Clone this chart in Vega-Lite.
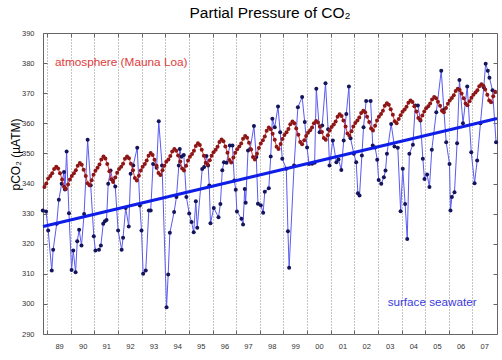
{
  "$schema": "https://vega.github.io/schema/vega-lite/v6.json",
  "width": 454,
  "height": 301,
  "autosize": {"type": "none"},
  "padding": {"left": 43, "top": 33, "right": 5, "bottom": 26},
  "background": "white",
  "title": {"text": "Partial Pressure of CO₂", "fontSize": 15.5, "font": "Liberation Sans", "fontWeight": "normal", "color": "#000000", "anchor": "middle", "offset": 14, "baseline": "alphabetic", "dy": 18},
  "config": {"view": {"stroke": "#666666", "strokeWidth": 1}, "font": "Liberation Sans"},
  "datasets": {
    "trend": [{"t": 1988.82, "v": 325.7}, {"t": 2008.04, "v": 361.6}],
    "labels": [
      {"t": 1989.33, "v": 380.2, "label": "atmosphere (Mauna Loa)"},
      {"t": 2003.41, "v": 300.5, "label": "surface seawater"}
    ],
    "sea": [
      {"t":1988.81,"v":331.0},{"t":1988.95,"v":330.7},{"t":1989.04,"v":324.4},{"t":1989.19,"v":311.1},{"t":1989.25,"v":318.0},{"t":1989.40,"v":326.6},{"t":1989.49,"v":334.6},{"t":1989.61,"v":339.9},{"t":1989.71,"v":343.8},{"t":1989.75,"v":338.0},{"t":1989.82,"v":350.6},{"t":1989.92,"v":330.1},
      {"t":1990.03,"v":311.3},{"t":1990.10,"v":317.7},{"t":1990.20,"v":310.5},{"t":1990.27,"v":320.8},{"t":1990.35,"v":324.6},{"t":1990.45,"v":319.4},{"t":1990.56,"v":329.9},{"t":1990.71,"v":354.5},{"t":1990.84,"v":339.4},{"t":1990.97,"v":322.5},
      {"t":1991.04,"v":317.7},{"t":1991.19,"v":318.0},{"t":1991.27,"v":319.4},{"t":1991.37,"v":326.6},{"t":1991.44,"v":327.5},{"t":1991.51,"v":327.9},{"t":1991.58,"v":339.9},{"t":1991.68,"v":344.3},{"t":1991.78,"v":341.0},{"t":1991.88,"v":339.0},
      {"t":1992.00,"v":324.4},{"t":1992.15,"v":318.0},{"t":1992.21,"v":322.0},{"t":1992.32,"v":331.9},{"t":1992.45,"v":325.7},{"t":1992.53,"v":343.2},{"t":1992.64,"v":346.0},{"t":1992.81,"v":351.9},{"t":1992.92,"v":332.7},{"t":1992.99,"v":324.4},
      {"t":1993.06,"v":310.0},{"t":1993.17,"v":311.1},{"t":1993.30,"v":331.0},{"t":1993.38,"v":331.0},{"t":1993.48,"v":346.5},{"t":1993.63,"v":345.2},{"t":1993.72,"v":360.7},{"t":1993.86,"v":346.0},
      {"t":1994.05,"v":298.9},{"t":1994.12,"v":309.8},{"t":1994.19,"v":323.6},{"t":1994.37,"v":330.5},{"t":1994.47,"v":335.5},{"t":1994.57,"v":346.0},{"t":1994.61,"v":351.5},{"t":1994.68,"v":348.9},{"t":1994.78,"v":349.5},{"t":1994.89,"v":335.5},
      {"t":1995.01,"v":330.0},{"t":1995.11,"v":327.2},{"t":1995.20,"v":323.8},{"t":1995.29,"v":334.1},{"t":1995.35,"v":325.3},{"t":1995.56,"v":344.8},{"t":1995.64,"v":345.5},{"t":1995.74,"v":349.1},{"t":1995.81,"v":346.0},{"t":1995.86,"v":339.3},{"t":1995.91,"v":326.8},
      {"t":1996.05,"v":331.9},{"t":1996.25,"v":328.8},{"t":1996.33,"v":333.2},{"t":1996.41,"v":344.4},{"t":1996.48,"v":347.1},{"t":1996.59,"v":346.9},{"t":1996.73,"v":352.6},{"t":1996.84,"v":352.6},{"t":1996.92,"v":341.0},{"t":1996.98,"v":337.9},
      {"t":1997.03,"v":330.7},{"t":1997.22,"v":328.3},{"t":1997.29,"v":326.4},{"t":1997.36,"v":338.2},{"t":1997.40,"v":333.6},{"t":1997.50,"v":351.0},{"t":1997.59,"v":351.5},{"t":1997.75,"v":359.1},{"t":1997.85,"v":348.8},{"t":1997.92,"v":333.3},
      {"t":1998.04,"v":332.8},{"t":1998.14,"v":330.3},{"t":1998.21,"v":337.3},{"t":1998.38,"v":338.4},{"t":1998.46,"v":349.0},{"t":1998.53,"v":361.5},{"t":1998.63,"v":358.7},{"t":1998.77,"v":365.6},{"t":1998.86,"v":357.0},{"t":1998.95,"v":348.2},
      {"t":1999.12,"v":344.9},{"t":1999.19,"v":324.1},{"t":1999.24,"v":312.0},{"t":1999.45,"v":346.0},{"t":1999.61,"v":365.3},{"t":1999.79,"v":368.7},{"t":1999.90,"v":360.4},
      {"t":2000.00,"v":352.0},{"t":2000.08,"v":346.5},{"t":2000.21,"v":346.6},{"t":2000.32,"v":346.9},{"t":2000.39,"v":371.5},{"t":2000.53,"v":357.0},{"t":2000.64,"v":359.3},{"t":2000.78,"v":373.3},{"t":2000.89,"v":358.0},{"t":2000.95,"v":346.0},
      {"t":2001.09,"v":354.3},{"t":2001.24,"v":347.1},{"t":2001.33,"v":348.0},{"t":2001.45,"v":344.5},{"t":2001.55,"v":354.3},{"t":2001.66,"v":363.1},{"t":2001.77,"v":372.2},{"t":2001.84,"v":355.0},{"t":2001.98,"v":349.9},
      {"t":2002.08,"v":347.1},{"t":2002.15,"v":336.8},{"t":2002.22,"v":336.0},{"t":2002.32,"v":349.3},{"t":2002.39,"v":358.7},{"t":2002.50,"v":367.4},{"t":2002.69,"v":367.4},{"t":2002.78,"v":352.6},{"t":2002.88,"v":352.0},{"t":2002.97,"v":347.9},
      {"t":2003.03,"v":341.2},{"t":2003.14,"v":339.9},{"t":2003.25,"v":342.1},{"t":2003.32,"v":344.3},{"t":2003.38,"v":349.9},{"t":2003.56,"v":359.8},{"t":2003.70,"v":352.3},{"t":2003.84,"v":351.9},{"t":2003.96,"v":330.8},
      {"t":2004.05,"v":344.9},{"t":2004.15,"v":333.2},{"t":2004.24,"v":321.6},{"t":2004.33,"v":349.9},{"t":2004.48,"v":352.9},{"t":2004.58,"v":365.9},{"t":2004.69,"v":365.9},{"t":2004.80,"v":360.9},{"t":2004.90,"v":348.2},{"t":2004.97,"v":341.5},
      {"t":2005.08,"v":343.0},{"t":2005.18,"v":338.8},{"t":2005.28,"v":351.2},{"t":2005.47,"v":363.7},{"t":2005.68,"v":377.5},{"t":2005.79,"v":364.5},{"t":2005.89,"v":353.7},
      {"t":2006.03,"v":346.5},{"t":2006.07,"v":331.0},{"t":2006.13,"v":335.5},{"t":2006.24,"v":337.1},{"t":2006.35,"v":353.4},{"t":2006.45,"v":374.4},{"t":2006.60,"v":360.0},{"t":2006.78,"v":372.2},{"t":2006.95,"v":350.4},
      {"t":2007.09,"v":340.1},{"t":2007.20,"v":347.6},{"t":2007.34,"v":360.0},{"t":2007.48,"v":372.0},{"t":2007.56,"v":379.8},{"t":2007.65,"v":377.5},{"t":2007.72,"v":375.1},{"t":2007.85,"v":371.0},{"t":2008.00,"v":353.7}
    ],
    "atm": [
      {"t":1988.88,"v":338.8},{"t":1988.96,"v":340.0},
      {"t":1989.04,"v":341.7},{"t":1989.13,"v":342.5},{"t":1989.21,"v":343.4},{"t":1989.29,"v":344.8},{"t":1989.38,"v":345.6},{"t":1989.46,"v":345.0},{"t":1989.54,"v":343.4},{"t":1989.63,"v":341.3},{"t":1989.71,"v":338.9},{"t":1989.79,"v":338.2},{"t":1989.88,"v":339.7},{"t":1989.96,"v":341.3},
      {"t":1990.04,"v":342.5},{"t":1990.13,"v":343.4},{"t":1990.21,"v":344.4},{"t":1990.29,"v":345.9},{"t":1990.38,"v":346.8},{"t":1990.46,"v":346.2},{"t":1990.54,"v":344.6},{"t":1990.63,"v":342.5},{"t":1990.71,"v":340.1},{"t":1990.79,"v":339.4},{"t":1990.88,"v":341.1},{"t":1990.96,"v":342.9},
      {"t":1991.04,"v":344.2},{"t":1991.13,"v":345.2},{"t":1991.21,"v":346.3},{"t":1991.29,"v":348.0},{"t":1991.38,"v":349.0},{"t":1991.46,"v":348.3},{"t":1991.54,"v":346.5},{"t":1991.63,"v":344.1},{"t":1991.71,"v":341.4},{"t":1991.79,"v":340.5},{"t":1991.88,"v":342.0},{"t":1991.96,"v":343.6},
      {"t":1992.04,"v":344.8},{"t":1992.13,"v":345.6},{"t":1992.21,"v":346.6},{"t":1992.29,"v":348.2},{"t":1992.38,"v":349.0},{"t":1992.46,"v":348.4},{"t":1992.54,"v":346.6},{"t":1992.63,"v":344.4},{"t":1992.71,"v":341.8},{"t":1992.79,"v":341.0},{"t":1992.88,"v":342.6},{"t":1992.96,"v":344.3},
      {"t":1993.04,"v":345.6},{"t":1993.13,"v":346.5},{"t":1993.21,"v":347.6},{"t":1993.29,"v":349.2},{"t":1993.38,"v":350.1},{"t":1993.46,"v":349.5},{"t":1993.54,"v":347.9},{"t":1993.63,"v":345.9},{"t":1993.71,"v":343.5},{"t":1993.79,"v":342.8},{"t":1993.88,"v":344.4},{"t":1993.96,"v":345.9},
      {"t":1994.04,"v":347.2},{"t":1994.13,"v":348.0},{"t":1994.21,"v":349.1},{"t":1994.29,"v":350.6},{"t":1994.38,"v":351.5},{"t":1994.46,"v":350.9},{"t":1994.54,"v":349.3},{"t":1994.63,"v":347.3},{"t":1994.71,"v":345.0},{"t":1994.79,"v":344.3},{"t":1994.88,"v":345.9},{"t":1994.96,"v":347.6},
      {"t":1995.04,"v":348.9},{"t":1995.13,"v":349.8},{"t":1995.21,"v":350.9},{"t":1995.29,"v":352.5},{"t":1995.38,"v":353.4},{"t":1995.46,"v":352.8},{"t":1995.54,"v":351.2},{"t":1995.63,"v":349.2},{"t":1995.71,"v":346.9},{"t":1995.79,"v":346.2},{"t":1995.88,"v":347.7},{"t":1995.96,"v":349.2},
      {"t":1996.04,"v":350.4},{"t":1996.13,"v":351.2},{"t":1996.21,"v":352.2},{"t":1996.29,"v":353.8},{"t":1996.38,"v":354.6},{"t":1996.46,"v":354.0},{"t":1996.54,"v":352.3},{"t":1996.63,"v":350.2},{"t":1996.71,"v":347.8},{"t":1996.79,"v":347.0},{"t":1996.88,"v":348.6},{"t":1996.96,"v":350.2},
      {"t":1997.04,"v":351.4},{"t":1997.13,"v":352.3},{"t":1997.21,"v":353.3},{"t":1997.29,"v":354.9},{"t":1997.38,"v":355.8},{"t":1997.46,"v":355.2},{"t":1997.54,"v":353.5},{"t":1997.63,"v":351.3},{"t":1997.71,"v":348.8},{"t":1997.79,"v":348.0},{"t":1997.88,"v":349.9},{"t":1997.96,"v":351.8},
      {"t":1998.04,"v":353.3},{"t":1998.13,"v":354.4},{"t":1998.21,"v":355.6},{"t":1998.29,"v":357.5},{"t":1998.38,"v":358.6},{"t":1998.46,"v":358.0},{"t":1998.54,"v":356.5},{"t":1998.63,"v":354.5},{"t":1998.71,"v":352.2},{"t":1998.79,"v":351.5},{"t":1998.88,"v":353.1},{"t":1998.96,"v":354.8},
      {"t":1999.04,"v":356.1},{"t":1999.13,"v":357.0},{"t":1999.21,"v":358.1},{"t":1999.29,"v":359.7},{"t":1999.38,"v":360.6},{"t":1999.46,"v":360.0},{"t":1999.54,"v":358.3},{"t":1999.63,"v":356.2},{"t":1999.71,"v":353.8},{"t":1999.79,"v":353.0},{"t":1999.88,"v":354.4},{"t":1999.96,"v":355.8},
      {"t":2000.04,"v":356.9},{"t":2000.13,"v":357.7},{"t":2000.21,"v":358.6},{"t":2000.29,"v":360.0},{"t":2000.38,"v":360.8},{"t":2000.46,"v":360.3},{"t":2000.54,"v":358.9},{"t":2000.63,"v":357.1},{"t":2000.71,"v":355.1},{"t":2000.79,"v":354.5},{"t":2000.88,"v":356.0},{"t":2000.96,"v":357.6},
      {"t":2001.04,"v":358.8},{"t":2001.13,"v":359.6},{"t":2001.21,"v":360.6},{"t":2001.29,"v":362.2},{"t":2001.38,"v":363.0},{"t":2001.46,"v":362.4},{"t":2001.54,"v":360.9},{"t":2001.63,"v":358.9},{"t":2001.71,"v":356.6},{"t":2001.79,"v":355.9},{"t":2001.88,"v":357.4},{"t":2001.96,"v":358.9},
      {"t":2002.04,"v":360.1},{"t":2002.13,"v":360.9},{"t":2002.21,"v":361.9},{"t":2002.29,"v":363.4},{"t":2002.38,"v":364.2},{"t":2002.46,"v":363.7},{"t":2002.54,"v":362.2},{"t":2002.63,"v":360.4},{"t":2002.71,"v":358.3},{"t":2002.79,"v":357.6},{"t":2002.88,"v":359.2},{"t":2002.96,"v":360.9},
      {"t":2003.04,"v":362.2},{"t":2003.13,"v":363.1},{"t":2003.21,"v":364.2},{"t":2003.29,"v":365.8},{"t":2003.38,"v":366.7},{"t":2003.46,"v":366.2},{"t":2003.54,"v":364.7},{"t":2003.63,"v":362.8},{"t":2003.71,"v":360.7},{"t":2003.79,"v":360.0},{"t":2003.88,"v":361.4},{"t":2003.96,"v":362.7},
      {"t":2004.04,"v":363.8},{"t":2004.13,"v":364.6},{"t":2004.21,"v":365.5},{"t":2004.29,"v":366.8},{"t":2004.38,"v":367.6},{"t":2004.46,"v":367.1},{"t":2004.54,"v":365.7},{"t":2004.63,"v":363.9},{"t":2004.71,"v":361.8},{"t":2004.79,"v":361.2},{"t":2004.88,"v":362.6},{"t":2004.96,"v":363.9},
      {"t":2005.04,"v":365.0},{"t":2005.13,"v":365.7},{"t":2005.21,"v":366.6},{"t":2005.29,"v":367.9},{"t":2005.38,"v":368.7},{"t":2005.46,"v":368.3},{"t":2005.54,"v":367.2},{"t":2005.63,"v":365.8},{"t":2005.71,"v":364.2},{"t":2005.79,"v":363.7},{"t":2005.88,"v":365.1},{"t":2005.96,"v":366.5},
      {"t":2006.04,"v":367.6},{"t":2006.13,"v":368.4},{"t":2006.21,"v":369.3},{"t":2006.29,"v":370.7},{"t":2006.38,"v":371.5},{"t":2006.46,"v":371.1},{"t":2006.54,"v":369.9},{"t":2006.63,"v":368.3},{"t":2006.71,"v":366.6},{"t":2006.79,"v":366.0},{"t":2006.88,"v":367.3},{"t":2006.96,"v":368.5},
      {"t":2007.04,"v":369.5},{"t":2007.13,"v":370.2},{"t":2007.21,"v":371.0},{"t":2007.29,"v":372.3},{"t":2007.38,"v":373.0},{"t":2007.46,"v":372.5},{"t":2007.54,"v":371.2},{"t":2007.63,"v":369.5},{"t":2007.71,"v":367.6},{"t":2007.79,"v":367.0},{"t":2007.88,"v":369.0},{"t":2007.96,"v":370.5}
    ]
  },
  "layer": [
    {
      "data": {"name": "sea"},
      "mark": {"type": "line", "color": "#5a5af0", "strokeWidth": 1},
      "encoding": {
        "x": {"field": "t", "type": "quantitative", "scale": {"domain": [1988.82, 2008.04], "nice": false, "zero": false},
          "axis": {"orient": "bottom", "values": [1989,1990,1991,1992,1993,1994,1995,1996,1997,1998,1999,2000,2001,2002,2003,2004,2005,2006,2007],
            "grid": true, "gridDash": [1, 2], "gridColor": "#8a8a8a", "gridWidth": 1, "gridOpacity": 1,
            "domain": false, "ticks": true, "tickSize": -4, "tickColor": "#666666",
            "labelExpr": "substring('' + datum.value, 2, 4)", "labelOffset": 11.8, "labelFontSize": 7.5, "labelColor": "#333333", "labelPadding": 12.5, "labelFont": "Liberation Sans", "title": null}},
        "y": {"field": "v", "type": "quantitative", "scale": {"domain": [290, 390], "nice": false, "zero": false},
          "axis": {"orient": "left", "values": [290,300,310,320,330,340,350,360,370,380,390], "grid": false, "domain": false,
            "ticks": true, "tickSize": -4, "tickColor": "#666666", "labelFontSize": 7.5, "labelColor": "#333333", "labelPadding": 13, "labelFont": "Liberation Sans",
            "title": "pCO₂ (µATM)", "titleFontSize": 12, "titleFontWeight": "normal", "titleColor": "#000000", "titleFont": "Liberation Sans",
            "titleX": -28, "titleY": 121, "titleAlign": "center", "titleAngle": 270, "titleBaseline": "middle"}}
      }
    },
    {
      "data": {"name": "sea"},
      "mark": {"type": "point", "filled": true, "color": "#14145c", "size": 16, "opacity": 1},
      "encoding": {
        "x": {"field": "t", "type": "quantitative", "scale": {"domain": [1988.82, 2008.04], "nice": false, "zero": false}, "axis": null},
        "y": {"field": "v", "type": "quantitative", "scale": {"domain": [290, 390], "nice": false, "zero": false}, "axis": null}
      }
    },
    {
      "data": {"name": "trend"},
      "mark": {"type": "line", "color": "#0f1ee6", "strokeWidth": 3},
      "encoding": {
        "x": {"field": "t", "type": "quantitative", "scale": {"domain": [1988.82, 2008.04], "nice": false, "zero": false}, "axis": null},
        "y": {"field": "v", "type": "quantitative", "scale": {"domain": [290, 390], "nice": false, "zero": false}, "axis": null}
      }
    },
    {
      "data": {"name": "atm"},
      "mark": {"type": "line", "color": "#e82a2a", "strokeWidth": 1},
      "encoding": {
        "x": {"field": "t", "type": "quantitative", "scale": {"domain": [1988.82, 2008.04], "nice": false, "zero": false}, "axis": null},
        "y": {"field": "v", "type": "quantitative", "scale": {"domain": [290, 390], "nice": false, "zero": false}, "axis": null}
      }
    },
    {
      "data": {"name": "atm"},
      "mark": {"type": "point", "filled": true, "color": "#8e1616", "size": 16, "opacity": 1},
      "encoding": {
        "x": {"field": "t", "type": "quantitative", "scale": {"domain": [1988.82, 2008.04], "nice": false, "zero": false}, "axis": null},
        "y": {"field": "v", "type": "quantitative", "scale": {"domain": [290, 390], "nice": false, "zero": false}, "axis": null}
      }
    },
    {
      "data": {"name": "labels"},
      "transform": [{"filter": "datum.label == 'atmosphere (Mauna Loa)'"}],
      "mark": {"type": "text", "align": "left", "baseline": "middle", "fontSize": 11.8, "font": "Liberation Sans", "color": "#e03a3a"},
      "encoding": {
        "x": {"field": "t", "type": "quantitative", "scale": {"domain": [1988.82, 2008.04], "nice": false, "zero": false}, "axis": null},
        "y": {"field": "v", "type": "quantitative", "scale": {"domain": [290, 390], "nice": false, "zero": false}, "axis": null},
        "text": {"field": "label"}
      }
    },
    {
      "data": {"name": "labels"},
      "transform": [{"filter": "datum.label == 'surface seawater'"}],
      "mark": {"type": "text", "align": "left", "baseline": "middle", "fontSize": 11.7, "font": "Liberation Sans", "color": "#3a3ae0"},
      "encoding": {
        "x": {"field": "t", "type": "quantitative", "scale": {"domain": [1988.82, 2008.04], "nice": false, "zero": false},
          "axis": {"orient": "top", "values": [1989,1990,1991,1992,1993,1994,1995,1996,1997,1998,1999,2000,2001,2002,2003,2004,2005,2006,2007],
            "grid": false, "domain": false, "labels": false, "ticks": true, "tickSize": -4, "tickColor": "#666666", "title": null}},
        "y": {"field": "v", "type": "quantitative", "scale": {"domain": [290, 390], "nice": false, "zero": false},
          "axis": {"orient": "right", "values": [290,300,310,320,330,340,350,360,370,380,390], "grid": false, "domain": false,
            "labels": false, "ticks": true, "tickSize": -4, "tickColor": "#666666", "title": null}},
        "text": {"field": "label"}
      }
    }
  ],
  "resolve": {"axis": {"x": "independent", "y": "independent"}}
}
